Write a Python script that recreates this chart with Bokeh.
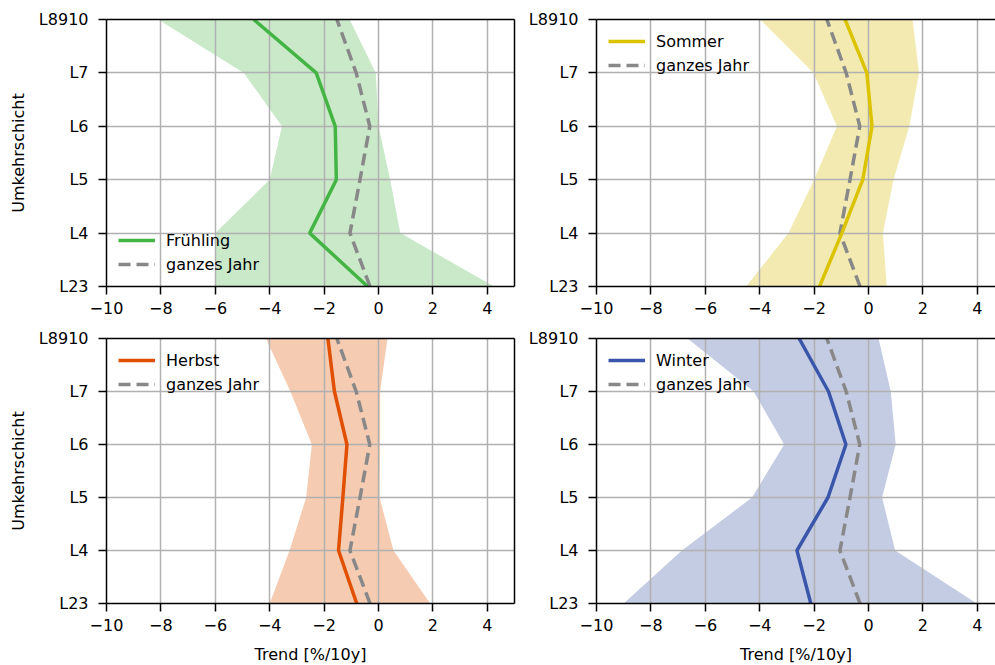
from bokeh.plotting import figure
from bokeh.models import FixedTicker, LinearAxis, Range1d, Legend, LegendItem
from bokeh.layouts import column, row
from bokeh.embed import file_html
from bokeh.resources import INLINE

# ---------------- data ----------------
layers = ["L23", "L4", "L5", "L6", "L7", "L8910"]
x_ticks = [-10, -8, -6, -4, -2, 0, 2, 4]

year = [-0.31, -1.05, -0.68, -0.32, -0.82, -1.53]

spring = [-0.40, -2.53, -1.55, -1.59, -2.29, -4.59]
spring_lo = [-6.0, -6.0, -4.0, -3.55, -4.95, -8.1]
spring_hi = [4.25, 0.8, 0.43, 0.0, -0.1, -1.06]

summer = [-1.8, -0.98, -0.21, 0.13, -0.06, -0.86]
summer_lo = [-4.5, -2.94, -2.0, -1.16, -2.02, -3.98]
summer_hi = [0.67, 0.53, 0.92, 1.5, 1.86, 1.62]

autumn = [-0.8, -1.47, -1.31, -1.16, -1.62, -1.86]
autumn_lo = [-4.0, -3.27, -2.66, -2.45, -3.24, -4.14]
autumn_hi = [1.9, 0.55, 0.04, 0.06, 0.06, 0.33]

winter = [-2.12, -2.63, -1.49, -0.83, -1.47, -2.55]
winter_lo = [-9.0, -6.86, -4.28, -3.1, -4.22, -6.65]
winter_hi = [3.98, 0.98, 0.5, 1.0, 0.82, 0.37]

FONT = "DejaVu Sans"
FS = "16px"
y_pos = list(range(len(layers)))


def spine_axis():
    return LinearAxis(ticker=FixedTicker(ticks=[]), major_tick_out=0, major_tick_in=0,
                      minor_tick_out=0, minor_tick_in=0, major_label_text_font_size="0px",
                      major_label_standoff=0, axis_line_width=1.5, axis_line_color="black")


def panel(vals, lo, hi, name, lc, fc, loc, left_col, bottom_row):
    p = figure(frame_width=408 if left_col else 399,
               frame_height=265 if bottom_row else 267,
               x_range=Range1d(-10, 5 if left_col else 4.67),
               y_range=Range1d(0, len(layers) - 1),
               output_backend="svg", toolbar_location=None,
               min_border_left=106 if left_col else 72,
               min_border_right=10 if left_col else 0,
               min_border_top=16 if bottom_row else 19,
               min_border_bottom=62 if bottom_row else 36,
               background_fill_color="white", border_fill_color="white")
    p.outline_line_color = None

    xa = p.below[0]
    xa.ticker = FixedTicker(ticks=x_ticks)
    xa.major_label_overrides = {t: (str(t).replace("-", "\u2212")) for t in x_ticks}
    ya = p.left[0]
    ya.ticker = FixedTicker(ticks=y_pos)
    ya.major_label_overrides = {i: layers[i] for i in y_pos}
    for ax in (xa, ya):
        ax.axis_line_width = 1.5
        ax.axis_line_color = "black"
        ax.major_tick_line_width = 1.5
        ax.major_tick_line_color = "black"
        ax.major_tick_out = 8
        ax.major_tick_in = 0
        ax.minor_tick_out = 0
        ax.minor_tick_in = 0
        ax.major_label_text_font = FONT
        ax.major_label_text_font_size = FS
        ax.major_label_text_color = "black"
        ax.axis_label_text_font = FONT
        ax.axis_label_text_font_size = FS
        ax.axis_label_text_font_style = "normal"
        ax.axis_label_text_color = "black"
    xa.major_label_standoff = 7
    ya.major_label_standoff = 10
    if bottom_row:
        xa.axis_label = "Trend [%/10y]"
        xa.axis_label_standoff = 11
    if left_col:
        ya.axis_label = "Umkehrschicht"
        ya.axis_label_standoff = 8

    for g in (p.xgrid, p.ygrid):
        g.grid_line_color = "#b0b0b0"
        g.grid_line_width = 1.5
    p.xgrid.ticker = FixedTicker(ticks=x_ticks)
    p.ygrid.ticker = FixedTicker(ticks=y_pos)

    p.harea(x1=lo, x2=hi, y=y_pos, fill_color=fc, fill_alpha=1.0, level="image")
    r_year = p.line(year, y_pos, line_color="#888888", line_width=3.5, line_dash="12 6")
    r_season = p.line(vals, y_pos, line_color=lc, line_width=3.5)

    legend = Legend(items=[LegendItem(label=name, renderers=[r_season]),
                           LegendItem(label="ganzes Jahr", renderers=[r_year])],
                    location=loc, border_line_color=None, background_fill_alpha=0,
                    label_text_font=FONT, label_text_font_size=FS, label_text_color="black",
                    glyph_width=37, glyph_height=20, label_height=20, spacing=4,
                    padding=0, margin=12, label_standoff=11)
    p.add_layout(legend)

    p.add_layout(spine_axis(), "above")
    if left_col:
        p.add_layout(spine_axis(), "right")
    return p


p1 = panel(spring, spring_lo, spring_hi, "Frühling", "#44b544", "#c9e9c9", "bottom_left", True, False)
p2 = panel(summer, summer_lo, summer_hi, "Sommer", "#dbc300", "#f2eab0", "top_left", False, False)
p3 = panel(autumn, autumn_lo, autumn_hi, "Herbst", "#e05000", "#f5cbb2", "top_left", True, True)
p4 = panel(winter, winter_lo, winter_hi, "Winter", "#3a56aa", "#c4cce3", "top_left", False, True)

layout = column(row(p1, p2), row(p3, p4))
open("out.html", "w").write(file_html(layout, INLINE))
